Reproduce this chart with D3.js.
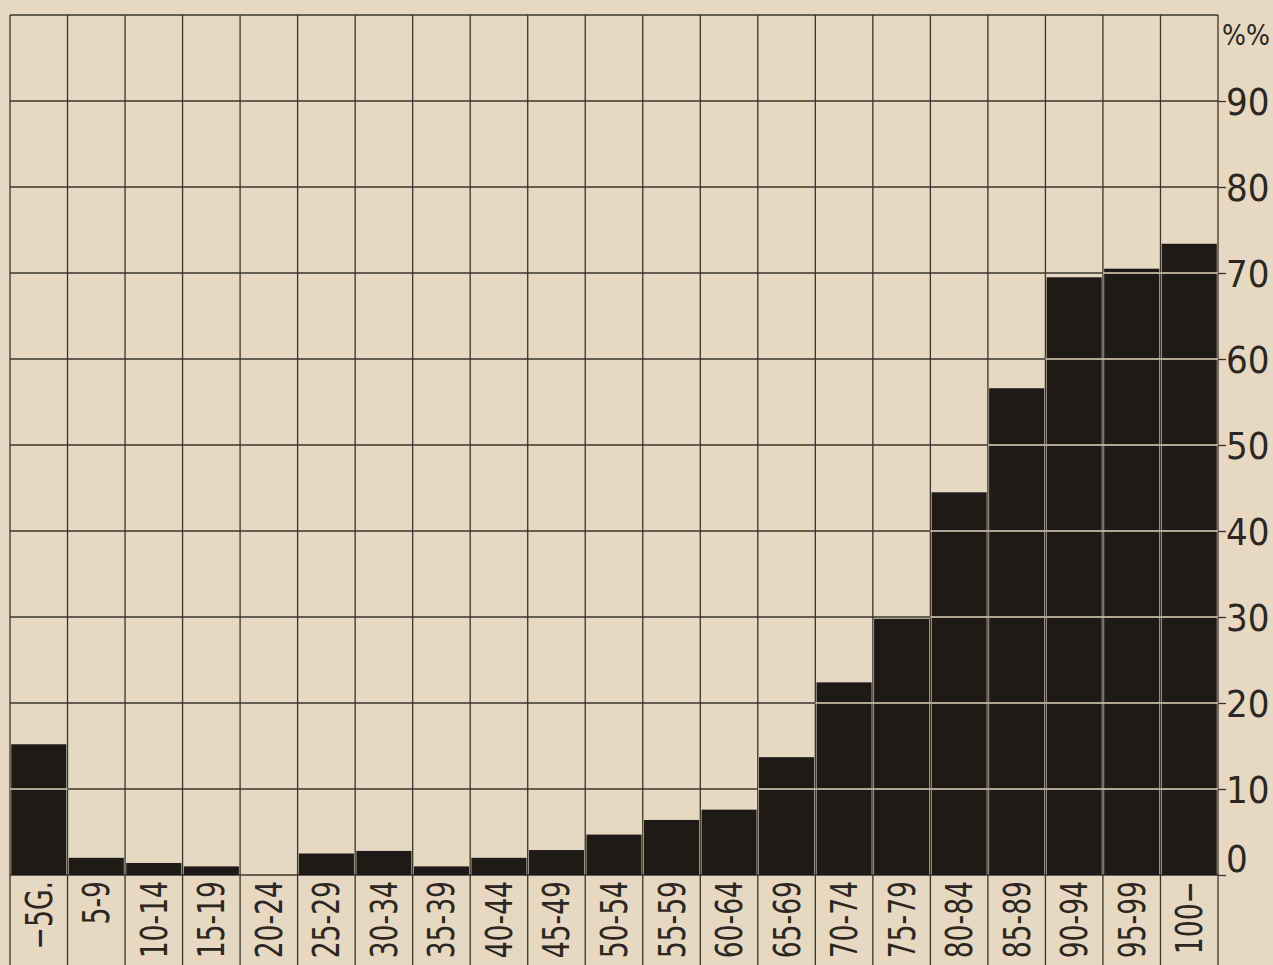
<!DOCTYPE html>
<html>
   <head>
      <meta charset="utf-8" />
      <script src="https://d3js.org/d3.v7.min.js"></script>
   </head>
   <style>
      body {
         margin: 0px;
         overflow: hidden;
         background: #e7d9c1;
      }

      .grid {
         stroke: #3a342c;
         stroke-width: 1.3;
      }

      .bar {
         fill: #1d1a17;
      }

      .light {
         stroke: #e2d4bb;
         stroke-width: 1.6;
      }

      text {
         font-family: "DejaVu Sans Condensed", "DejaVu Sans", sans-serif;
         font-weight: normal;
         fill: #2c2722;
      }
   </style>
   <body>
      <svg width="1273" height="965"></svg>
      <script>
         const ages = ["\u22125G.", "5-9", "10-14", "15-19", "20-24", "25-29", "30-34", "35-39",
            "40-44", "45-49", "50-54", "55-59", "60-64", "65-69", "70-74", "75-79",
            "80-84", "85-89", "90-94", "95-99", "100\u2212"];
         const percents = [15.2, 2.0, 1.4, 1.0, 0, 2.5, 2.8, 1.0, 2.0, 2.9, 4.7, 6.4, 7.6,
            13.7, 22.4, 29.8, 44.5, 56.6, 69.5, 70.5, 73.4];
         const ticks = [0, 10, 20, 30, 40, 50, 60, 70, 80, 90];

         (function () {
            const svg = d3.select("svg");
            const left = 10, right = 1218, plotTop = 15, base = 875, bottom = 965;

            const x = d3.scaleBand().domain(ages).range([left, right]).padding(0);
            const y = d3.scaleLinear().domain([0, 100]).range([base, plotTop]);

            // horizontal grid
            svg.append("g").selectAll("line")
               .data(ticks.concat([100]))
               .enter().append("line")
               .attr("class", "grid")
               .attr("x1", left).attr("x2", right)
               .attr("y1", d => y(d)).attr("y2", d => y(d));

            // vertical grid, running down through the label area
            const edges = ages.map(a => x(a)).concat([right]);
            svg.append("g").selectAll("line")
               .data(edges)
               .enter().append("line")
               .attr("class", "grid")
               .attr("x1", d => d).attr("x2", d => d)
               .attr("y1", plotTop).attr("y2", bottom);

            // bars
            svg.append("g").selectAll("rect")
               .data(percents)
               .enter().append("rect")
               .attr("class", "bar")
               .attr("x", (d, i) => x(ages[i]) + 1.2)
               .attr("width", x.bandwidth() - 2.4)
               .attr("y", d => y(d))
               .attr("height", d => base - y(d));

            // light grid lines showing through the black bars
            percents.forEach((v, i) => {
               ticks.filter(t => t > 0 && t < v - 0.3).forEach(t => {
                  svg.append("line")
                     .attr("class", "light")
                     .attr("x1", x(ages[i])).attr("x2", x(ages[i]) + x.bandwidth())
                     .attr("y1", y(t)).attr("y2", y(t));
               });
            });

            // right axis
            const axis = svg.append("g")
               .attr("transform", `translate(${right},0)`)
               .call(d3.axisRight(y).tickValues(ticks).tickSize(8).tickPadding(0));
            axis.select(".domain").remove();
            axis.selectAll(".tick line").attr("stroke", "#3a342c").attr("stroke-width", 1.3);
            axis.selectAll(".tick text")
               .attr("font-size", 38)
               .attr("fill", "#2c2722")
               .attr("font-family", null)
               .attr("dy", d => d === 0 ? "-0.1em" : "0.35em");

            svg.append("text")
               .attr("x", right + 4)
               .attr("y", y(100) + 30)
               .attr("font-size", 28)
               .text("%%");

            // bottom labels
            svg.append("g").selectAll("text")
               .data(ages)
               .enter().append("text")
               .attr("transform", d => `translate(${x(d) + x.bandwidth() / 2 + 13},881) rotate(-90) scale(0.8,1)`)
               .attr("text-anchor", "end")
               .attr("font-size", 37)
               .text(d => d);
         })();
      </script>
   </body>
</html>
